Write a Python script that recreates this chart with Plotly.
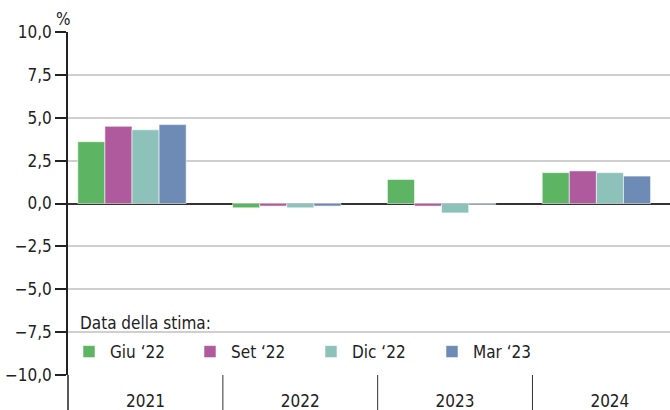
import plotly.graph_objects as go

# Anni e stime della crescita (%) per data di pubblicazione
anni = ["2021", "2022", "2023", "2024"]
serie = ["Giu ‘22", "Set ‘22", "Dic ‘22", "Mar ‘23"]
giu_22 = [3.6, -0.25, 1.4, 1.8]
set_22 = [4.5, -0.15, -0.15, 1.9]
dic_22 = [4.3, -0.25, -0.55, 1.8]
mar_23 = [4.6, -0.15, -0.05, 1.6]
valori = [giu_22, set_22, dic_22, mar_23]
colori = ["#5DB462", "#AE5A9C", "#8DC2BB", "#6E8BB6"]
y_ticks = [-10, -7.5, -5, -2.5, 0, 2.5, 5, 7.5, 10]

FONT = "DejaVu Sans Condensed, Liberation Sans Narrow, sans-serif"
FS = 17
idx = list(range(len(anni)))

fig = go.Figure()
for nome, vals, col in zip(serie, valori, colori):
    fig.add_trace(go.Bar(
        x=idx, y=vals, name=nome,
        marker=dict(color=col, line=dict(color="rgba(255,255,255,0.55)", width=1)),
    ))

# divisori tra gli anni sotto l'asse
shapes = []
for i in idx[:-1]:
    shapes.append(dict(type="line", xref="x", yref="paper", x0=i + 0.587, x1=i + 0.587,
                       y0=0, y1=-0.11, line=dict(color="#333333", width=1)))
# prolungamento dell'asse verticale
shapes.append(dict(type="line", xref="paper", yref="paper", x0=0, x1=0, y0=0, y1=-0.11,
                   line=dict(color="#222222", width=1.5)))

fig.update_layout(
    width=670, height=410,
    margin=dict(l=68, r=0, t=32, b=35, autoexpand=False),
    paper_bgcolor="white", plot_bgcolor="white",
    separators=",.",
    barmode="group", bargap=0.3, bargroupgap=0,
    font=dict(family=FONT, size=FS, color="#222222"),
    showlegend=True,
    legend=dict(orientation="h", x=0, xanchor="left", y=0.067, yanchor="middle",
                bgcolor="rgba(0,0,0,0)", itemwidth=32, entrywidth=74,
                font=dict(family=FONT, size=FS, color="#222222"),
                traceorder="normal"),
    shapes=shapes,
    annotations=[
        dict(text="%", xref="paper", yref="paper", x=-0.008, y=(375 - 19) / 343,
             xanchor="center", yanchor="middle", showarrow=False,
             font=dict(family=FONT, size=FS)),
        dict(text="Data della stima:", xref="paper", yref="paper", x=(78 - 68) / 602,
             y=(375 - 323) / 343, xanchor="left", yanchor="middle", showarrow=False,
             font=dict(family=FONT, size=FS)),
    ],
)

fig.update_xaxes(
    range=[-0.4134, 3.4755],
    tickvals=[i + 0.087 for i in idx], ticktext=anni,
    ticks="", showgrid=False, zeroline=False, showline=False,
    ticklabelstandoff=14, automargin=False,
)
fig.update_yaxes(
    range=[-10, 10], tickvals=y_ticks, tickformat=".1f",
    ticks="outside", ticklen=11, tickwidth=1.5, tickcolor="#222222",
    showline=True, linecolor="#222222", linewidth=1.5,
    showgrid=True, gridcolor="#CFCFCF", gridwidth=1.5,
    zeroline=True, zerolinecolor="#333333", zerolinewidth=1.5,
    automargin=False,
)

fig.write_html("out.html")
